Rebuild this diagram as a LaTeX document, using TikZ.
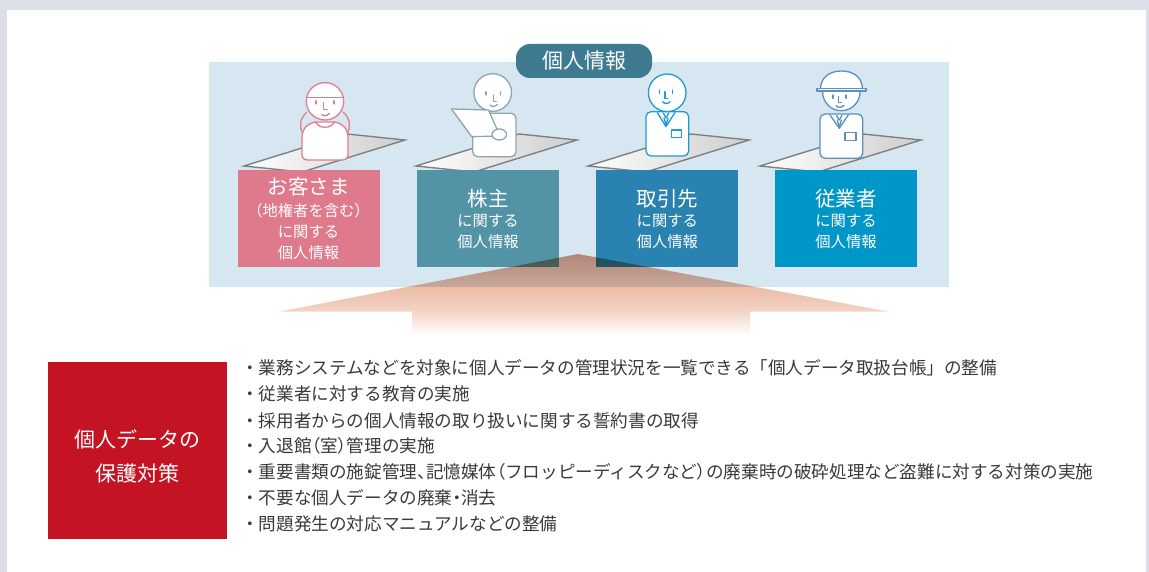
\documentclass[tikz,border=0pt]{standalone}
\usepackage{fontspec}
\newfontfamily\jp{Noto Sans CJK JP}
% proportional spacing, used for a few narrow punctuation marks
\newfontfamily\jpp[RawFeature=+palt]{Noto Sans CJK JP}
\newcommand\np[1]{{\jpp #1}}
\definecolor{bgframe}{HTML}{DCDFE8}
\definecolor{panelblue}{HTML}{D6E7F1}
\definecolor{tabteal}{HTML}{3F7B90}
\definecolor{custpink}{HTML}{DF7A8C}
\definecolor{holdteal}{HTML}{5294A5}
\definecolor{partblue}{HTML}{2A82B0}
\definecolor{staffcyan}{HTML}{0096C8}
\definecolor{guardred}{HTML}{C41424}
\definecolor{listtext}{HTML}{3A3A3A}
\definecolor{custline}{HTML}{E07D92}
\definecolor{holdline}{HTML}{8EA4AE}
\definecolor{partline}{HTML}{1E9BD2}
\definecolor{staffline}{HTML}{5B8FC2}
\definecolor{sheetedge}{HTML}{808080}
\definecolor{sheetgrey}{HTML}{CDCDCD}
\definecolor{arrowT}{HTML}{D8957E}
\definecolor{arrowM}{HTML}{ECBBA5}
\definecolor{arrowB}{HTML}{F3D3C5}
\pgfdeclareverticalshading{arrowfade}{100bp}{color(0bp)=(white); color(25bp)=(white); color(40bp)=(arrowB); color(55bp)=(arrowM); color(75bp)=(arrowT); color(100bp)=(arrowT)}
\pgfdeclarehorizontalshading{sheetfade}{100bp}{color(0bp)=(white); color(25bp)=(white); color(75bp)=(sheetgrey); color(100bp)=(sheetgrey)}
\tikzset{
  infobox/.style={inner sep=0pt, minimum width=142pt, minimum height=97pt},
  headtxt/.style={text=white, inner sep=0pt, font=\jp\fontsize{20.5}{24}\selectfont},
  subtxt/.style={text=white, inner sep=0pt, font=\jp\fontsize{15.3}{18}\selectfont},
  listline/.style={text=listtext, inner sep=0pt, anchor=west, font=\jp\fontsize{17.6}{22}\selectfont},
  sheetstyle/.style={shading=sheetfade, draw=sheetedge, line width=1.4pt, line join=miter},
  figure/.style={line width=1.3pt, fill=white},
}
% one desk sheet, given its left corner
\newcommand\desksheet[1]{\shadedraw[sheetstyle] (#1,166) -- ++(103,-32) -- ++(58,6) -- ++(-103,32) -- cycle;}
\begin{document}
\begin{tikzpicture}[x=1pt, y=-1pt, line cap=round, line join=round]
\useasboundingbox (0,0) rectangle (1149,572);
% page frame
\fill[bgframe] (0,0) rectangle (1149,572);
\fill[white] (7,10) rectangle (1146,572);
% upper panel
\fill[panelblue] (209,62) rectangle (949,287);
\node[fill=tabteal, rounded corners=14pt, minimum width=136pt, minimum height=34pt, inner sep=0pt,
      text=white, font=\jp\fontsize{21}{24}\selectfont] (tab) at (584,61) {個人情報};

% desk sheets
\desksheet{244}
\desksheet{416}
\desksheet{588}
\desksheet{760}

% customer
\begin{scope}[draw=custline, figure]
  \filldraw (302,154) -- (302,138) .. controls (302,128) and (308,123) .. (316,122) -- (334,122)
    .. controls (342,123) and (348,128) .. (348,138) -- (348,154) .. controls (348,158) and (346,160) .. (342,160)
    -- (308,160) .. controls (304,160) and (302,158) .. (302,154) -- cycle;
  \filldraw (325,101.3) circle (18.7);
  \draw (306.7,97.5) -- (343.3,97.5);
  \draw (307,112) .. controls (300,118) and (299,126) .. (302.5,133);
  \draw (343,112) .. controls (350,118) and (351,126) .. (347.5,133);
  \draw (316,122) .. controls (318,129) and (332,129) .. (334,122);
  \draw (316,100.7) -- (316,104);
  \draw (334,100.7) -- (334,104);
  \draw (323.3,102.7) -- (323.3,109.3) -- (327.3,109.3);
  \draw (321.7,114.3) .. controls (323.5,116.5) and (327.5,116.3) .. (329.3,113.3);
\end{scope}

% shareholder
\begin{scope}[draw=holdline, figure]
  \filldraw[rounded corners=5pt] (472.7,113.3) rectangle (516,156.7);
  \filldraw (492.7,92.5) circle (18.8);
  \filldraw (451.5,109) -- (488.5,110) -- (500,136) -- (471.7,136.7) -- cycle;
  \filldraw (499.3,134.5) ellipse (7.3 and 5.5);
  \draw (486,91.7) -- (486,95);
  \draw (500.7,91.7) -- (500.7,95);
  \draw (493.3,95) -- (493.3,101.7) -- (496.3,101.7);
  \draw (490,105) .. controls (491.5,107) and (495.5,107) .. (497.3,104.3);
\end{scope}

% business partner
\begin{scope}[draw=partline, figure]
  \filldraw[rounded corners=5pt] (646,111.7) rectangle (688.7,156);
  \filldraw (667.2,92.8) circle (18.8);
  \draw (657.3,112.5) -- (666,126.7) -- (675,112.5);
  \draw (663.3,113) -- (666,118) -- (668.7,113);
  \draw (664,118) -- (666,125);
  \draw (668,118) -- (666,125);
  \draw (671.7,130) rectangle (681.7,137.3);
  \draw (659.3,90) -- (659.3,93.3);
  \draw (672.7,90) -- (672.7,93.3);
  \draw (665,91.7) -- (665,98.3) -- (667.8,98.3);
  \draw (662.7,101.7) .. controls (664,104) and (668.5,104) .. (670,101.7);
\end{scope}

% employee
\begin{scope}[draw=staffline, figure]
  \filldraw[rounded corners=5pt] (820,114) rectangle (862.7,158.3);
  \filldraw (841.3,92) circle (18.7);
  \filldraw (820.5,89.3) .. controls (820.5,77) and (830,71) .. (841.5,71)
    .. controls (853,71) and (862.5,77) .. (862.5,89.3) -- cycle;
  \filldraw (817,88.5) rectangle (866,91);
  \draw (830,115) -- (839.3,128.3) -- (848.3,115);
  \draw (836.5,115.5) -- (839.3,120) -- (842,115.5);
  \draw (837.3,120) -- (839.3,127);
  \draw (841.3,120) -- (839.3,127);
  \draw (845,132.7) rectangle (856,140.7);
  \draw (833,95) -- (833,98.3);
  \draw (846,95) -- (846,98.3);
  \draw (838.5,96.5) -- (838.5,102.5) -- (841.5,102.5);
  \draw (836,105.5) .. controls (837.5,108) and (842,108) .. (844,105.3);
\end{scope}

% category boxes
\node[infobox, fill=custpink]  (bcust)  at (308.5,218.5) {};
\node[infobox, fill=holdteal]  (bhold)  at (488,218.5) {};
\node[infobox, fill=partblue]  (bpart)  at (667.3,218.5) {};
\node[infobox, fill=staffcyan] (bstaff) at (846,218.5) {};

\node[headtxt] (c1) at (308.5,187) {お客さま};
\node[subtxt]  (c2) at (308.5,210.5) {（地権者を含む）};
\node[subtxt]  (c3) at (308.5,232.5) {に関する};
\node[subtxt]  (c4) at (308.5,253) {個人情報};

\node[headtxt] (h1) at (488,199) {株主};
\node[subtxt]  (h2) at (488,221.5) {に関する};
\node[subtxt]  (h3) at (488,242) {個人情報};

\node[headtxt] (p1) at (667.3,199) {取引先};
\node[subtxt]  (p2) at (667.3,221.5) {に関する};
\node[subtxt]  (p3) at (667.3,242) {個人情報};

\node[headtxt] (s1) at (846,199) {従業者};
\node[subtxt]  (s2) at (846,221.5) {に関する};
\node[subtxt]  (s3) at (846,242) {個人情報};

% upward arrow from the measures to the data
\begin{scope}[blend mode=multiply]
  \shade[shading=arrowfade] (578,254) -- (888,311.5) -- (750,311.5) -- (750,335) -- (412,335)
    -- (412,311.5) -- (280,311.5) -- cycle;
\end{scope}

% protection measures
\node[fill=guardred, inner sep=0pt, minimum width=179pt, minimum height=177pt] (guard) at (137.5,450.5) {};
\node[text=white, inner sep=0pt, font=\jp\fontsize{21}{24}\selectfont] (g1) at (137.5,439) {個人データの};
\node[text=white, inner sep=0pt, font=\jp\fontsize{21}{24}\selectfont] (g2) at (137.5,473) {保護対策};

\node[listline] (m1) at (241,368) {・業務システムなどを対象に個人データの管理状況を一覧できる「個人データ取扱台帳」の整備};
\node[listline] (m2) at (241,394) {・従業者に対する教育の実施};
\node[listline] (m3) at (241,421) {・採用者からの個人情報の取り扱いに関する誓約書の取得};
\node[listline] (m4) at (241,446) {・入退館\np{（}室\np{）}管理の実施};
\node[listline] (m5) at (241,472) {・重要書類の施錠管理\np{、}記憶媒体\np{（}フロッピーディスクなど\np{）}の廃棄時の破砕処理など盗難に対する対策の実施};
\node[listline] (m6) at (241,498) {・不要な個人データの廃棄\np{・}消去};
\node[listline] (m7) at (241,524) {・問題発生の対応マニュアルなどの整備};
\end{tikzpicture}
\end{document}
